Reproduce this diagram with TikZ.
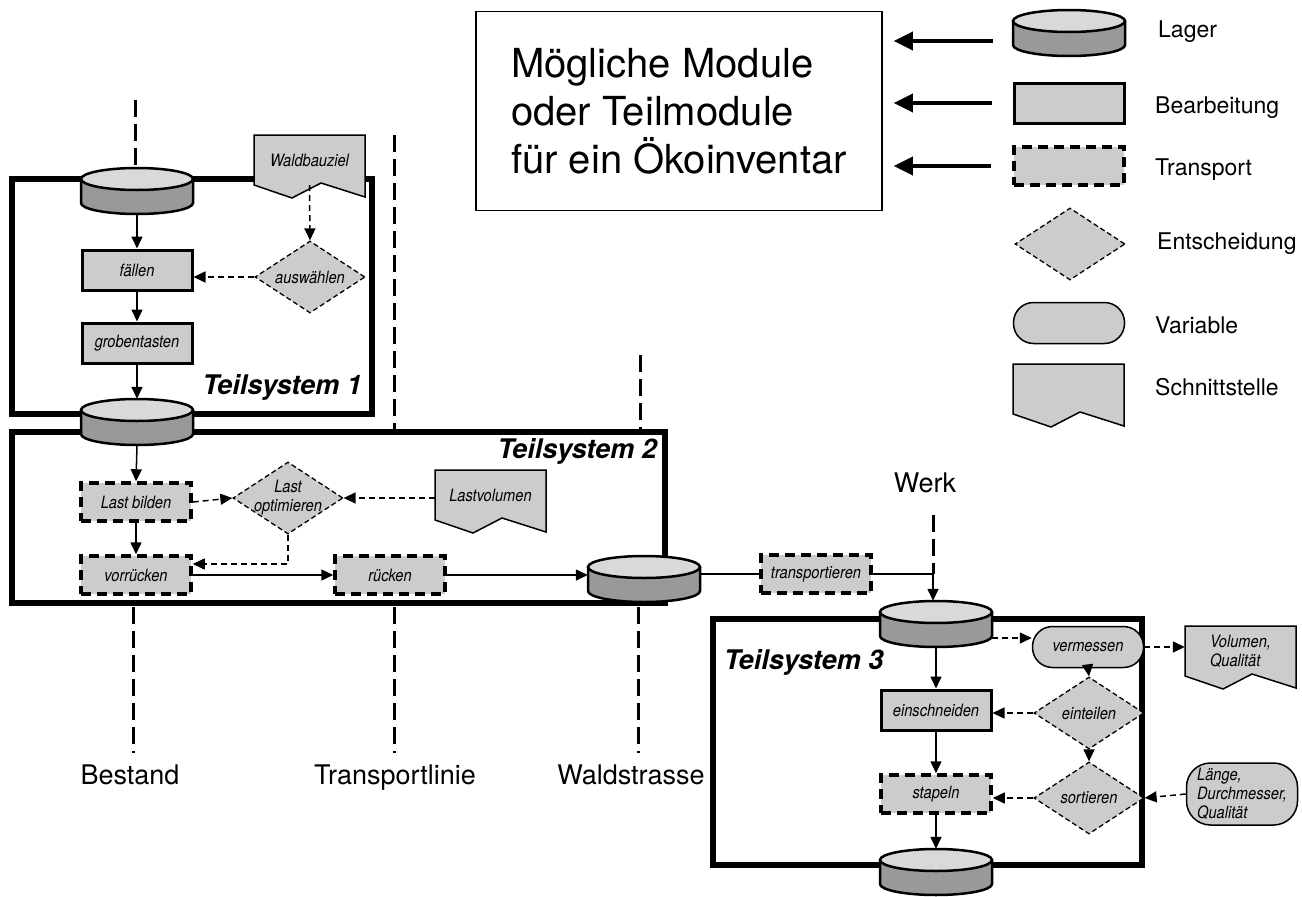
\documentclass[tikz,border=0pt]{standalone}
\usepackage{fontspec}
\setmainfont{TeX Gyre Heros}
\newfontfamily\nodefam{TeX Gyre Heros}[FakeStretch=0.86]
\usetikzlibrary{shapes.geometric,arrows.meta,calc}
\definecolor{boxfill}{gray}{0.80}
\definecolor{cyltop}{gray}{0.85}
\definecolor{cylbody}{gray}{0.60}

\tikzset{
  nfont/.style={font=\nodefam\fontsize{17}{19}\selectfont\itshape},
  bearb/.style={draw, line width=3pt, fill=boxfill, minimum width=110pt, minimum height=40pt, inner sep=0pt, nfont},
  transpbox/.style={draw, line width=3.5pt, dash pattern=on 10pt off 6pt, fill=boxfill, minimum width=110pt, minimum height=38pt, inner sep=0pt, nfont},
  entsch/.style={diamond, draw, line width=1.3pt, dash pattern=on 5pt off 3pt, fill=boxfill, minimum width=110pt, minimum height=72pt, inner sep=-3pt, aspect=1.53, nfont, align=center},
  variab/.style={draw, line width=1.5pt, fill=boxfill, rounded corners=20pt, minimum width=111pt, minimum height=41pt, inner sep=0pt, nfont},
  schnline/.style={draw, line width=1.5pt, fill=boxfill},
  schntext/.style={minimum width=111pt, minimum height=50pt, inner sep=0pt, nfont},
  lagernode/.style={minimum width=112pt, minimum height=46pt, inner sep=0pt},
  cylline/.style={line width=2.5pt},
  tsframe/.style={draw, line width=5.5pt, inner sep=0pt},
  tslabel/.style={font=\fontsize{27}{31}\selectfont\bfseries\itshape, inner sep=0pt},
  biglabel/.style={font=\fontsize{27}{31}\selectfont, inner sep=0pt},
  leglabel/.style={font=\fontsize{23}{27}\selectfont, inner sep=0pt},
  titlebox/.style={draw, line width=1.5pt, font=\fontsize{40}{48}\selectfont, align=left, inner sep=0pt, minimum width=406pt, minimum height=199pt},
  flow/.style={line width=1.5pt, -{Triangle[length=12pt,width=11pt]}},
  dflow/.style={flow, dash pattern=on 6pt off 4pt},
  legarrow/.style={line width=3.5pt, -{Triangle[length=19pt,width=18pt]}},
  guide/.style={line width=3pt, dash pattern=on 17pt off 7pt},
}

\newcommand\lager[3]{%
  \fill[cylbody] ({#2-56},{#3-12}) -- ({#2-56},{#3+12}) arc[start angle=180,end angle=0,x radius=56,y radius=11] -- ({#2+56},{#3-12}) -- cycle;
  \draw[cylline] ({#2-56},{#3-12}) -- ({#2-56},{#3+12}) arc[start angle=180,end angle=0,x radius=56,y radius=11] -- ({#2+56},{#3-12});
  \draw[cylline, fill=cyltop] (#2,{#3-12}) ellipse[x radius=56, y radius=11];
  \node[lagernode] (#1) at (#2,#3) {};
}
\newcommand\schnitt[5][]{%
  \draw[schnline] ({#3},{#4}) -- ({#3+111},{#4}) -- ({#3+111},{#4+62}) -- ({#3+67},{#4+48}) -- ({#3+38},{#4+63}) -- ({#3},{#4+50}) -- cycle;
  \node[schntext,#1] (#2) at ({#3+55.5},{#4+25}) {#5};
}

\begin{document}
\begin{tikzpicture}[x=1pt,y=-1pt]
\useasboundingbox (0,0) rectangle (1302,897);

% ---------- frames of the subsystems
\node[tsframe, minimum width=360pt, minimum height=235pt] (ts1) at (192,296.5) {};
\node[tsframe, minimum width=653pt, minimum height=171pt] (ts2) at (338.5,517.5) {};
\node[tsframe, minimum width=429pt, minimum height=246pt] (ts3) at (927.5,742) {};
\node[tslabel, anchor=base east] (ts1lab) at (362,394) {Teilsystem 1};
\node[tslabel, anchor=base east] (ts2lab) at (657,458) {Teilsystem 2};
\node[tslabel, anchor=base west] (ts3lab) at (724,669) {Teilsystem 3};

% ---------- title and legend
\node[titlebox] (title) at (679,111) {Mögliche Module\\oder Teilmodule\\für ein Ökoinventar};
\path[use as bounding box] (0,0) rectangle (1302,897);

\lager{lgLager}{1069}{33}
\node[bearb] (lgBearb) at (1069,103) {};
\node[transpbox] (lgTrans) at (1069,166) {};
\node[entsch] (lgEnt) at (1070,244) {};
\node[variab] (lgVar) at (1069,323) {};
\schnitt{lgSchn}{1013}{364}{}

\node[leglabel, anchor=base west] (lLager) at (1158,37) {Lager};
\node[leglabel, anchor=base west] (lBearb) at (1155,113) {Bearbeitung};
\node[leglabel, anchor=base west] (lTrans) at (1155,175) {Transport};
\node[leglabel, anchor=base west] (lEnt) at (1157,249) {Entscheidung};
\node[leglabel, anchor=base west] (lVar) at (1155,333) {Variable};
\node[leglabel, anchor=base west] (lSchn) at (1155,395) {Schnittstelle};

\coordinate (la1) at ($(lgLager.west)+(-20,8)$);
\coordinate (la2) at ($(lgBearb.west)+(-21,0)$);
\coordinate (la3) at ($(lgTrans.west)+(-21,0)$);
\draw[legarrow, shorten >=11pt] (la1) -- (la1 -| title.east);
\draw[legarrow, shorten >=11pt] (la2) -- (la2 -| title.east);
\draw[legarrow, shorten >=11pt] (la3) -- (la3 -| title.east);

% ---------- stores
\lager{c1}{137}{191}
\lager{c2}{137}{422}
\lager{c3}{644}{579}
\lager{c4}{936}{624}
\lager{c5}{936}{872}

% ---------- Teilsystem 1
\schnitt{waldb}{254}{135}{Waldbauziel}
\node[bearb] (faellen) at (137,270) {fällen};
\node[bearb] (grob) at (137,343) {grobentasten};
\node[entsch] (ausw) at (310,277) {auswählen};

% ---------- Teilsystem 2
\node[transpbox] (lastb) at (136,502) {Last bilden};
\node[entsch] (optim) at (288,498) {Last\\optimieren};
\schnitt{lastvol}{435}{470}{Lastvolumen}
\node[transpbox] (vorr) at (136,575) {vorrücken};
\node[transpbox] (rueck) at (390,575) {rücken};
\node[transpbox] (transp) at (816,574) {transportieren};

% ---------- Teilsystem 3
\node[bearb] (einschn) at (936,710) {einschneiden};
\node[transpbox] (stap) at (936,794) {stapeln};
\node[variab] (verm) at (1088,647) {vermessen};
\node[entsch] (eint) at (1089,713) {einteilen};
\node[entsch] (sort) at (1089,798) {sortieren};
\schnitt[align=left]{volq}{1185}{626}{Volumen,\\Qualität}
\node[variab, rounded corners=24pt, minimum height=62pt, align=left] (laenge) at (1242,794) {Länge,\\Durchmesser,\\Qualität};

% ---------- labels of the lines
\node[biglabel, anchor=base] (bestand) at (130,784) {Bestand};
\node[biglabel, anchor=base] (tlinie) at (395,784) {Transportlinie};
\node[biglabel, anchor=base] (wstrasse) at (631,784) {Waldstrasse};
\node[biglabel, anchor=base] (werk) at (925,492) {Werk};

% ---------- guide lines
\coordinate (bT) at (135,100);
\draw[guide] (bT) -- (bT |- c1.north);
\coordinate (bB1) at (133,607); \coordinate (bB2) at (133,753);
\draw[guide] (bB1) -- (bB2);
\coordinate (tT1) at (394,135);
\draw[guide] (tT1) -- (tT1 |- ts2.north);
\coordinate (tB1) at (394,607); \coordinate (tB2) at (394,753);
\draw[guide] (tB1) -- (tB2);
\coordinate (wT1) at (640,355);
\draw[guide] (wT1) -- (wT1 |- ts2.north);
\coordinate (wB1) at (638,607); \coordinate (wB2) at (638,753);
\draw[guide] (wB1) -- (wB2);
\coordinate (werkTop) at (933,515);
\coordinate (junc) at (933,574);
\draw[guide] (werkTop) -- (junc);

% ---------- connectors Teilsystem 1
\draw[flow] (c1.south) -- (faellen.north);
\draw[flow] (faellen.south) -- (grob.north);
\draw[flow] (grob.south) -- (c2.north);
\draw[dflow] (waldb.south) -- (ausw.north);
\draw[dflow] (ausw.west) -- (ausw.west -| faellen.east);

% ---------- connectors Teilsystem 2
\draw[flow] (c2.south) -- (lastb.north);
\draw[dflow] (lastb.east) -- (optim.west);
\draw[dflow] (lastvol.west |- optim.east) -- (optim.east);
\draw[flow] (lastb.south) -- (vorr.north);
\coordinate (vorrin) at ($(vorr.east)+(0,-11)$);
\draw[dflow] (optim.south) |- (vorrin);
\draw[flow] (vorr.east) -- (rueck.west);
\draw[flow] (rueck.east) -- (rueck.east -| c3.west);
\draw[line width=1.5pt] (transp.west -| c3.east) -- (transp.west);
\draw[line width=1.5pt] (transp.east) -- (junc);
\draw[flow] (junc) -- (junc |- c4.north);

% ---------- connectors Teilsystem 3
\draw[flow] (c4.south) -- (einschn.north);
\draw[flow] (einschn.south) -- (stap.north);
\draw[flow] (stap.south) -- (c5.north);
\coordinate (c4r) at ($(c4.east)+(0,14)$);
\draw[dflow] (c4r) -- (c4r -| verm.west);
\draw[dflow] (verm.east) -- (verm.east -| volq.west);
\draw[flow] (verm.south) -- (eint.north);
\draw[flow] (eint.south) -- (sort.north);
\draw[dflow] (eint.west) -- (eint.west -| einschn.east);
\draw[dflow] (sort.west) -- (sort.west -| stap.east);
\draw[dflow] (laenge.west) -- (sort.east);
\end{tikzpicture}
\end{document}
